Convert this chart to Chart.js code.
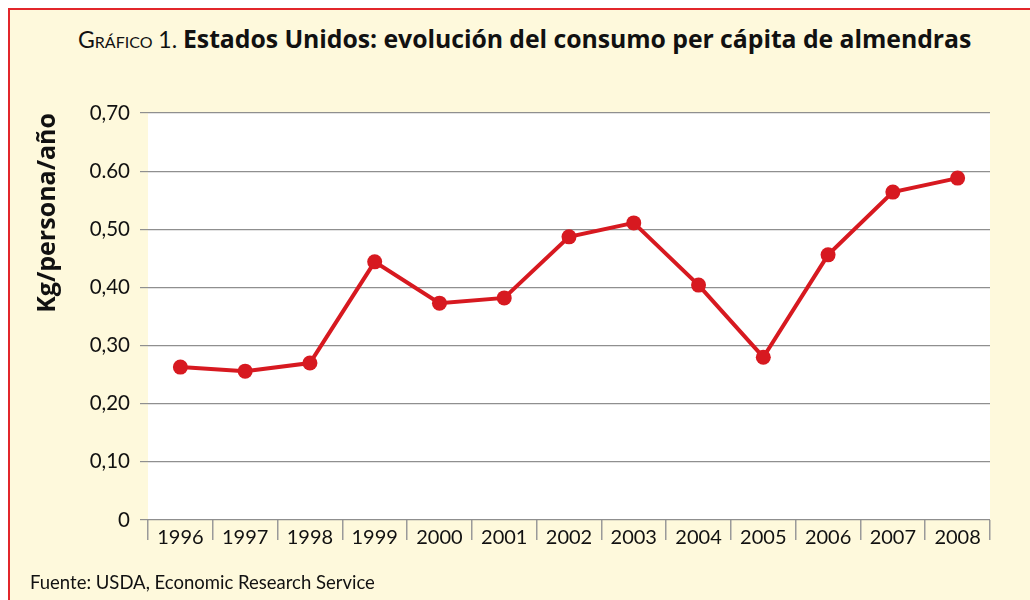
<!DOCTYPE html>
<html lang="es">
<head>
  <meta charset="UTF-8">
  <title>Consumo per cápita de almendras</title>
  <style>
    html, body { margin: 0; padding: 0; background: #fff; }
    body { width: 1030px; height: 600px; position: relative; overflow: hidden; font-family: Lato, "Open Sans", sans-serif; }
    #marco {
      position: absolute; left: 8px; top: 8px; right: 0; bottom: 0;
      background: #fef9dc;
      border-top: 2px solid #e2262b;
      border-left: 2px solid #e2262b;
    }
    #titulo {
      position: absolute; left: 78px; top: 21px; white-space: nowrap;
      font-size: 23px; color: #111;
    }
    #titulo .num { font-variant: small-caps; font-weight: 400; }
    #titulo b { font-family: "Open Sans", sans-serif; font-weight: 700; font-size: 24.8px; letter-spacing: -0.05px; }
    #fuente {
      position: absolute; left: 30px; top: 571px; white-space: nowrap;
      font-size: 18.5px; color: #111;
    }
    canvas { position: absolute; left: 0; top: 0; }
  </style>
</head>
<body>
  <div id="marco"></div>
  <div id="titulo"><span class="num">Gráfico 1.</span> <b>Estados Unidos: evolución del consumo per cápita de almendras</b></div>
  <canvas id="myChart" width="1030" height="600"></canvas>
  <div id="fuente">Fuente: USDA, Economic Research Service</div>
  <script src="https://cdn.jsdelivr.net/npm/chart.js"></script>
  <script>
    // Datos: consumo de almendras en EE.UU. (kg/persona/año)
    var years = ['1996', '1997', '1998', '1999', '2000', '2001', '2002', '2003', '2004', '2005', '2006', '2007', '2008'];
    var consumo = [0.263, 0.256, 0.270, 0.444, 0.373, 0.382, 0.487, 0.511, 0.404, 0.280, 0.456, 0.564, 0.588];
    var yTickLabels = ['0', '0,10', '0,20', '0,30', '0,40', '0,50', '0.60', '0,70'];

    // fondo blanco solo dentro del área del gráfico
    var fondoArea = {
      id: 'fondoArea',
      beforeDraw: function(chart) {
        var a = chart.chartArea;
        var ctx = chart.ctx;
        ctx.save();
        ctx.fillStyle = '#ffffff';
        ctx.fillRect(a.left, a.top, a.right - a.left, a.bottom - a.top);
        ctx.restore();
      }
    };

    var ctx = document.getElementById('myChart').getContext('2d');
    var myChart = new Chart(ctx, {
      type: 'line',
      data: {
        labels: years,
        datasets: [{
          data: consumo,
          borderColor: '#d71920',
          backgroundColor: '#d71920',
          borderWidth: 4,
          pointRadius: 7.5,
          pointHoverRadius: 8,
          pointBorderWidth: 0,
          tension: 0
        }]
      },
      options: {
        responsive: false,
        animation: false,
        layout: { padding: { left: 8, top: 113, right: 40, bottom: 0 } },
        plugins: {
          legend: { display: false },
          tooltip: { enabled: false }
        },
        scales: {
          x: {
            offset: true,
            grid: { drawOnChartArea: false, offset: true, tickLength: 20, color: '#9a9a9a', lineWidth: 1.5 },
            border: { display: false },
            ticks: { color: '#111', padding: -14, maxRotation: 0, font: { family: 'Lato', size: 20 } },
            afterFit: function(scale) { scale.height = 80; }
          },
          y: {
            min: 0,
            max: 0.7,
            grid: { color: '#8f8f8f', lineWidth: 1.2, tickLength: 8 },
            border: { display: false },
            ticks: {
              stepSize: 0.1,
              color: '#111',
              padding: 10,
              font: { family: 'Lato', size: 20.5 },
              callback: function(value, index) { return yTickLabels[index]; }
            },
            title: {
              display: true,
              text: 'Kg/persona/año',
              align: 'end',
              color: '#111',
              padding: { top: 25, bottom: 0 },
              font: { family: 'Open Sans', size: 25, weight: 'bold' }
            },
            afterFit: function(scale) { scale.width = 140; }
          }
        }
      },
      plugins: [fondoArea]
    });
  </script>
</body>
</html>
